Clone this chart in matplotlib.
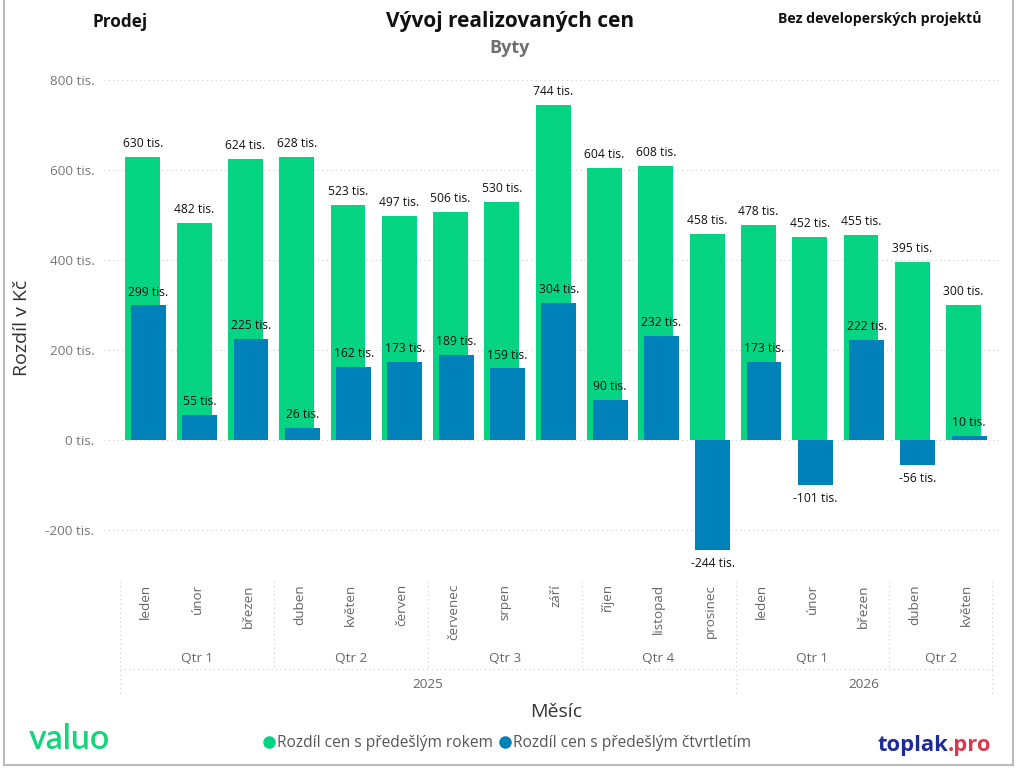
import matplotlib
matplotlib.use("Agg")
import matplotlib.pyplot as plt
from matplotlib.lines import Line2D
from matplotlib.transforms import blended_transform_factory
import numpy as np

months = ["leden", "únor", "březen", "duben", "květen", "červen", "červenec", "srpen",
          "září", "říjen", "listopad", "prosinec", "leden", "únor", "březen", "duben", "květen"]
quarters = ["Qtr 1", "Qtr 2", "Qtr 3", "Qtr 4", "Qtr 1", "Qtr 2"]
quarter_sizes = [3, 3, 3, 3, 3, 2]
years = ["2025", "2026"]
year_sizes = [12, 5]
yoy = [630, 482, 624, 628, 523, 497, 506, 530, 744, 604, 608, 458, 478, 452, 455, 395, 300]
qoq = [299, 55, 225, 26, 162, 173, 189, 159, 304, 90, 232, -244, 173, -101, 222, -56, 10]
yticks = [-200, 0, 200, 400, 600, 800]

GREEN = "#05D483"
BLUE = "#0081BA"
FONT = "Open Sans"
plt.rcParams["font.family"] = [FONT, "DejaVu Sans"]

W, H = 1023, 776
fig = plt.figure(figsize=(W / 100, H / 100), dpi=100)

def fx(px):
    return px / W

def fy(py):
    return 1 - py / H

# axes geometry (pixels)
cat_left, cat_right = 120, 992
n = len(months)
cw = (cat_right - cat_left) / n
ax_left_px, ax_right_px = 104, 1000
y_top_px, y0_px = 80, 440
ppu = (y0_px - y_top_px) / 800.0
ymin = -260
y_bot_px = y0_px - ymin * ppu
ax = fig.add_axes([fx(ax_left_px), fy(y_bot_px), fx(ax_right_px - ax_left_px), (y_bot_px - y_top_px) / H])
xl = -0.5 - (cat_left - ax_left_px) / cw
xr = n - 0.5 + (ax_right_px - cat_right) / cw
ax.set_xlim(xl, xr)
ax.set_ylim(ymin, 800)
for s in ax.spines.values():
    s.set_visible(False)
ax.set_xticks([])
ax.set_yticks(yticks)
ax.set_yticklabels([f"{v} tis." for v in yticks], color="#777777", fontsize=9.7)
ax.tick_params(axis="y", length=0, pad=7)
for v in yticks:
    ax.axhline(v, color="#CCCCCC", lw=0.8, ls=(0, (1, 3)), zorder=0)

x = np.arange(n)
bw = 0.68
off = 0.11
xg = x - off / 2
xb = x + off / 2
ax.bar(xg, yoy, width=bw, color=GREEN, zorder=2)
ax.bar(xb, qoq, width=bw, color=BLUE, zorder=3)

for i in range(n):
    ax.annotate(f"{yoy[i]} tis.", (xg[i], yoy[i]), xytext=(0, 5), textcoords="offset points",
                ha="center", va="bottom", fontsize=8.7, color="#111111", zorder=5)
    if qoq[i] >= 0:
        ax.annotate(f"{qoq[i]} tis.", (xb[i], qoq[i]), xytext=(0, 5), textcoords="offset points",
                    ha="center", va="bottom", fontsize=8.7, color="#111111", zorder=5)
    else:
        ax.annotate(f"{qoq[i]} tis.", (xb[i], qoq[i]), xytext=(0, -5), textcoords="offset points",
                    ha="center", va="top", fontsize=8.7, color="#111111", zorder=5)

# hierarchical x axis
tr = blended_transform_factory(ax.transData, fig.transFigure)
for i, m in enumerate(months):
    fig.text(i, fy(584), m, transform=tr, rotation=90, ha="center", va="top",
             fontsize=9.7, color="#666666")
pos = 0
bounds_q = [0]
for q, sz in zip(quarters, quarter_sizes):
    fig.text(pos + sz / 2 - 0.5, fy(658), q, transform=tr, ha="center", va="center",
             fontsize=9.7, color="#666666")
    pos += sz
    bounds_q.append(pos)
pos = 0
bounds_y = [0]
for yv, sz in zip(years, year_sizes):
    fig.text(pos + sz / 2 - 0.5, fy(684), yv, transform=tr, ha="center", va="center",
             fontsize=9.7, color="#666666")
    pos += sz
    bounds_y.append(pos)

sep_style = dict(color="#CCCCCC", lw=0.8, ls=(0, (1, 3)), transform=tr, clip_on=False)
for b in bounds_q:
    bot = 695 if b in bounds_y else 669
    fig.add_artist(Line2D([b - 0.5, b - 0.5], [fy(581), fy(bot)], **sep_style))
fig.add_artist(Line2D([-0.5, n - 0.5], [fy(669), fy(669)], **sep_style))

# titles
fig.text(fx(510), fy(21), "Vývoj realizovaných cen", ha="center", va="center",
         fontsize=15, fontweight="bold", color="#111111")
fig.text(fx(510), fy(48), "Byty", ha="center", va="center",
         fontsize=13, fontweight="bold", color="#707070")
fig.text(fx(92), fy(22), "Prodej", ha="left", va="center",
         fontsize=12.3, fontweight="bold", color="#111111")
fig.text(fx(982), fy(19), "Bez developerských projektů", ha="right", va="center",
         fontsize=10.2, fontweight="bold", color="#111111")

fig.text(fx(22), fy(328), "Rozdíl v Kč", rotation=90, ha="center", va="center",
         fontsize=14, color="#333333")
fig.text(fx(556), fy(712), "Měsíc", ha="center", va="center",
         fontsize=14, color="#333333")

# legend
handles = [Line2D([], [], marker="o", ls="none", color=GREEN, markersize=8),
           Line2D([], [], marker="o", ls="none", color=BLUE, markersize=8)]
fig.legend(handles, ["Rozdíl cen s předešlým rokem", "Rozdíl cen s předešlým čtvrtletím"],
           loc="center", bbox_to_anchor=(fx(508), fy(743)), ncol=2, frameon=False,
           handlelength=0.6, handletextpad=0.2, columnspacing=0.5,
           prop={"family": FONT, "size": 11.2}, labelcolor="#555555")

# logos
fig.text(fx(29), fy(739), "valuo", ha="left", va="center", fontsize=24.5,
         fontweight="semibold", color="#17D37B", family="Lato")
t1 = fig.text(fx(877), fy(745), "toplak", ha="left", va="center", fontsize=15.8,
              fontweight="bold", color="#1C2B96")
fig.canvas.draw()
bb = t1.get_window_extent(renderer=fig.canvas.get_renderer())
fig.text(bb.x1 / W, fy(745), ".pro", ha="left", va="center", fontsize=15.8,
         fontweight="bold", color="#D83A4C")

# border
bstyle = dict(color="#BBBBBB", lw=1.5, transform=fig.transFigure)
fig.add_artist(Line2D([fx(4), fx(4)], [fy(0), fy(765)], **bstyle))
fig.add_artist(Line2D([fx(1013), fx(1013)], [fy(0), fy(765)], **bstyle))
fig.add_artist(Line2D([fx(4), fx(1013)], [fy(765), fy(765)], **bstyle))

fig.savefig("out.png", dpi=100)
